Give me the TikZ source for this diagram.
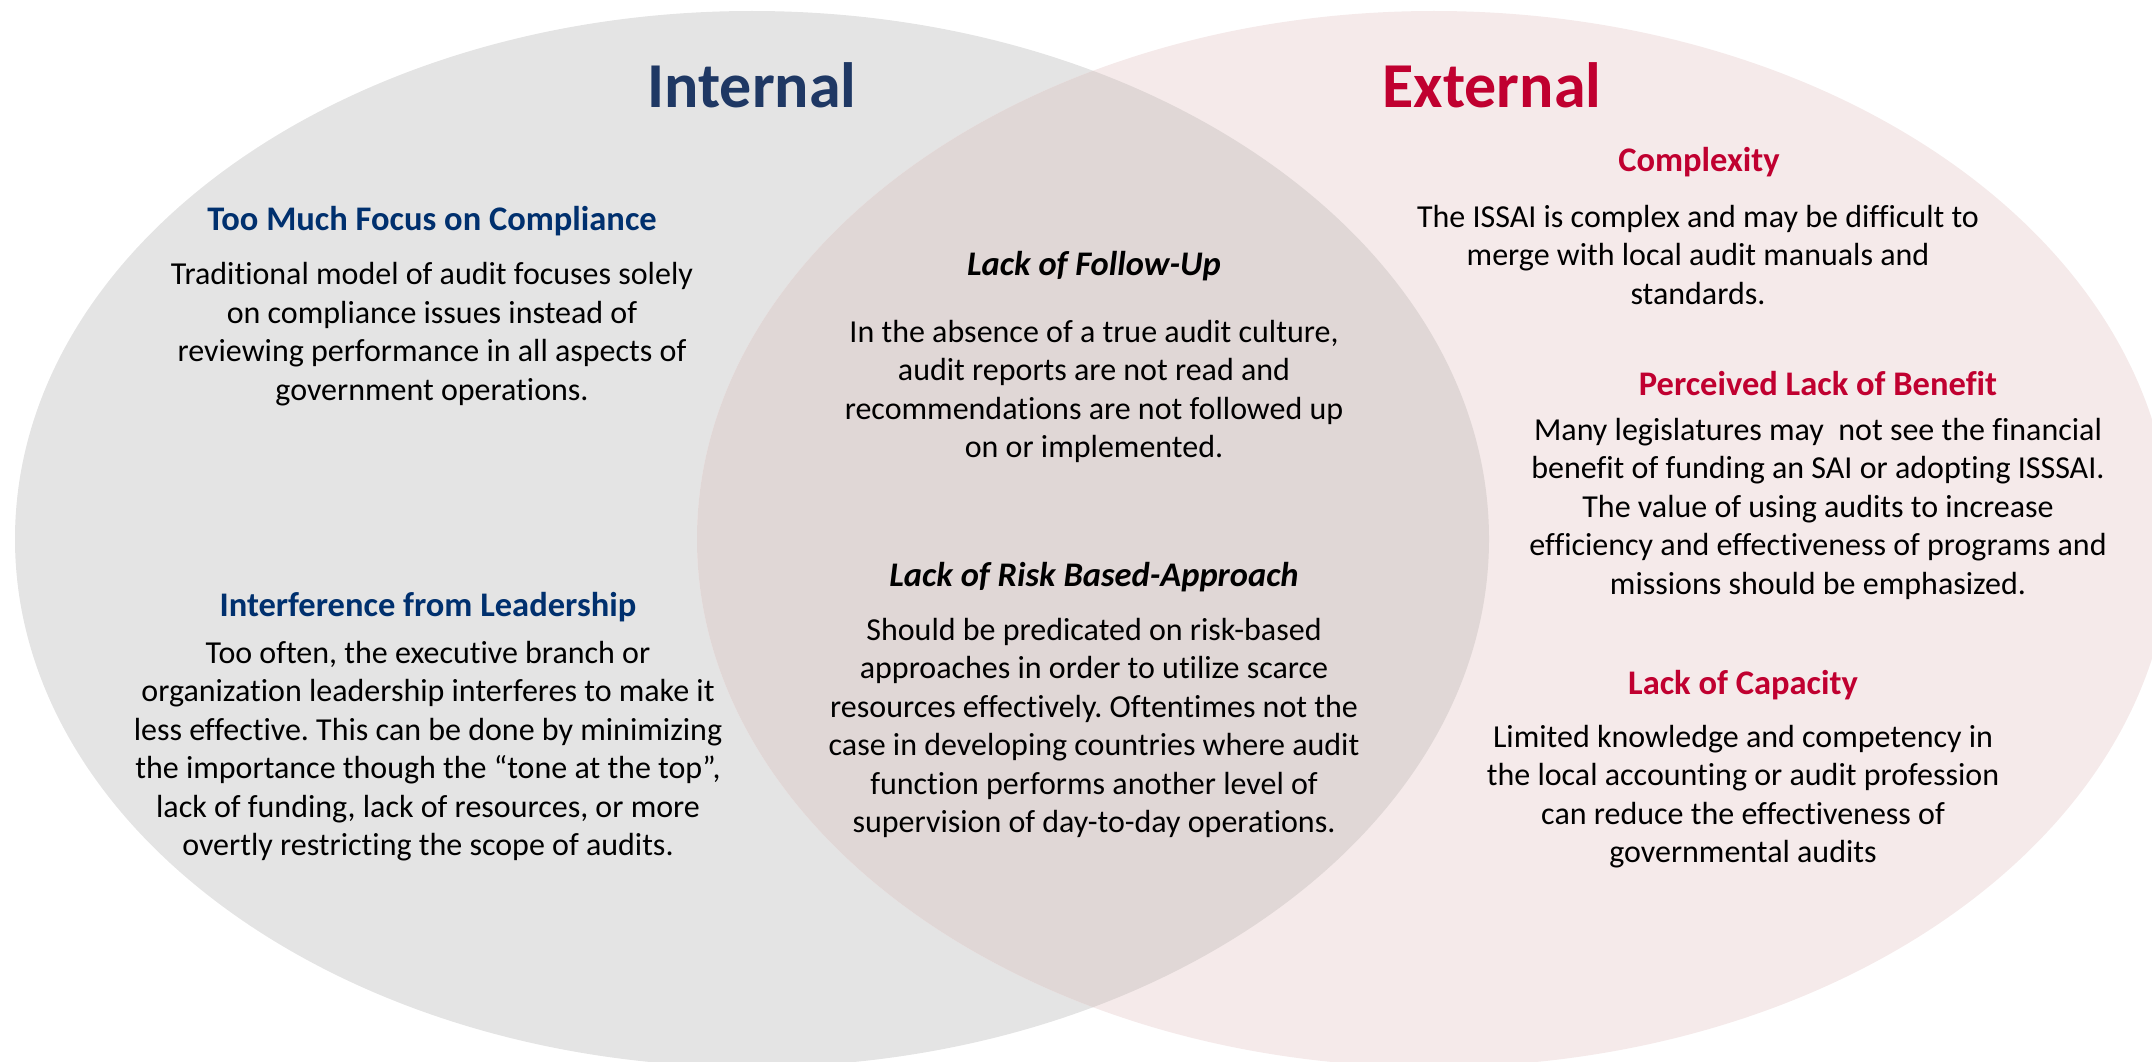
\documentclass[tikz,border=0pt]{standalone}
\usepackage{fontspec}
\setmainfont{Carlito}[Ligatures=NoCommon]
\frenchspacing
\definecolor{leftfill}{RGB}{228,228,228}
\definecolor{rightfill}{RGB}{245,234,234}
\definecolor{overlapfill}{RGB}{224,215,214}
\definecolor{navytitle}{RGB}{31,56,100}
\definecolor{navyhead}{RGB}{0,48,110}
\definecolor{redhead}{RGB}{192,0,48}
\begin{document}
\begin{tikzpicture}[x=1pt,y=-1pt,
  bodytext/.style={align=center, inner sep=0pt, text=black, font=\fontsize{32}{38.5}\selectfont},
  headbase/.style={inner sep=0pt, font=\fontsize{34.5}{40}\selectfont\bfseries},
  headnavy/.style={headbase, text=navyhead},
  headred/.style={headbase, text=redhead},
  headmid/.style={inner sep=0pt, text=black, font=\fontsize{34.5}{40}\selectfont\bfseries\itshape},
  titletext/.style={inner sep=0pt, font=\fontsize{64}{70}\selectfont\bfseries}]
\useasboundingbox (0,0) rectangle (2152,1062);
\begin{scope}
  \clip (0,0) rectangle (2152,1062);
  \fill[leftfill] (752,539) ellipse [x radius=737pt, y radius=528pt];
  \fill[rightfill] (1434,539) ellipse [x radius=737pt, y radius=528pt];
  \clip (752,539) ellipse [x radius=737pt, y radius=528pt];
  \fill[overlapfill] (1434,539) ellipse [x radius=737pt, y radius=528pt];
\end{scope}

% titles
\node[titletext, text=navytitle] (tint) at (752,85) {Internal};
\node[titletext, text=redhead] (text) at (1492,85) {External};

\begin{scope}[shift={(0,3)}]
% left column
\node[headnavy] (h1) at (432,218) {Too Much Focus on Compliance};
\node[bodytext] (b1) at (432,331) {Traditional model of audit focuses solely\\on compliance issues instead of\\reviewing performance in all aspects of\\government operations.};
\node[headnavy] (h2) at (428,604) {Interference from Leadership};
\node[bodytext] (b2) at (428,748) {Too often, the executive branch or\\organization leadership interferes to make it\\less effective. This can be done by minimizing\\the importance though the “tone at the top”,\\lack of funding, lack of resources, or more\\overtly restricting the scope of audits.};

% middle column
\node[headmid] (h3) at (1094,263) {Lack of Follow-Up};
\node[bodytext] (b3) at (1094,388.5) {In the absence of a true audit culture,\\audit reports are not read and\\recommendations are not followed up\\on or implemented.};
\node[headmid] (h4) at (1094,574) {Lack of Risk Based-Approach};
\node[bodytext] (b4) at (1094,725) {Should be predicated on risk-based\\approaches in order to utilize scarce\\resources effectively. Oftentimes not the\\case in developing countries where audit\\function performs another level of\\supervision of day-to-day operations.};

% right column
\node[headred] (h5) at (1699,159) {Complexity};
\node[bodytext] (b5) at (1698,252) {The ISSAI is complex and may be difficult to\\merge with local audit manuals and\\standards.};
\node[headred] (h6) at (1818,381) {Perceived Lack of Benefit};
\node[bodytext] (b6) at (1818,505.5) {Many legislatures may\ \ not see the financial\\benefit of funding an SAI or adopting ISSSAI.\\The value of using audits to increase\\efficiency and effectiveness of programs and\\missions should be emphasized.};
\node[headred] (h7) at (1743,682) {Lack of Capacity};
\node[bodytext] (b7) at (1743,793.5) {Limited knowledge and competency in\\the local accounting or audit profession\\can reduce the effectiveness of\\governmental audits};
\end{scope}
\end{tikzpicture}
\end{document}
